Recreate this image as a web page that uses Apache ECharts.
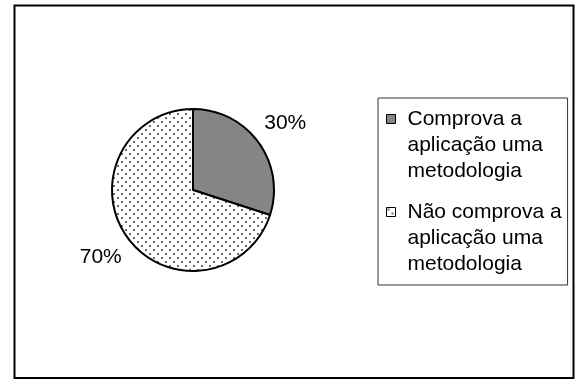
<!DOCTYPE html>
<html>
<head>
<meta charset="utf-8">
<script src="https://cdn.jsdelivr.net/npm/echarts@6/dist/echarts.min.js"></script>
<style>
  html, body { margin: 0; padding: 0; background: #fff; }
  #chart { width: 576px; height: 381px; }
</style>
</head>
<body>
<div id="chart"></div>
<script>
// Share of works that show they applied a methodology
const categories = [
  'Comprova a\naplicação uma\nmetodologia',
  'Não comprova a\naplicação uma\nmetodologia'
];
const values = [30, 70];

const FONT = '"Liberation Sans", Arial, sans-serif';

// Dotted fill used for the second slice
function dotPattern() {
  const c = document.createElement('canvas');
  c.width = 8; c.height = 8;
  const g = c.getContext('2d');
  g.fillStyle = '#ffffff';
  g.fillRect(0, 0, 8, 8);
  g.fillStyle = '#6a6a6a';
  g.fillRect(1, 1, 2, 2);
  g.fillRect(5, 5, 2, 2);
  return { image: c, repeat: 'repeat' };
}

const fills = ['#858585', dotPattern()];

const pieData = categories.map((name, i) => ({
  name: name,
  value: values[i],
  itemStyle: { color: fills[i] }
}));

const labelData = categories.map((name, i) => ({ name: name, value: values[i] }));

const chart = echarts.init(document.getElementById('chart'), null, { renderer: 'canvas' });

chart.setOption({
  animation: false,
  backgroundColor: '#ffffff',
  graphic: [{
    type: 'rect',
    silent: true,
    shape: { x: 14.5, y: 5.5, width: 559, height: 372.5 },
    style: { fill: 'none', stroke: '#000', lineWidth: 2 }
  }],
  legend: {
    orient: 'vertical',
    left: 378,
    top: 98,
    padding: [8, 6, 8, 8],
    itemGap: 15,
    itemWidth: 16,
    itemHeight: 61,
    // small square at the top-left of the symbol box so it sits beside the first text line
    icon: 'path://M0,0H9V9H0Z M16,61',
    borderColor: '#333',
    borderWidth: 1,
    selectedMode: false,
    data: categories,
    itemStyle: { borderColor: '#000', borderWidth: 1 },
    textStyle: {
      fontFamily: FONT,
      fontSize: 21,
      lineHeight: 26,
      color: '#000'
    }
  },
  series: [
    {
      type: 'pie',
      center: [193, 190],
      radius: 81,
      startAngle: 90,
      clockwise: true,
      silent: true,
      itemStyle: { borderColor: '#000', borderWidth: 2 },
      label: { show: false },
      labelLine: { show: false },
      emphasis: { disabled: true },
      data: pieData
    },
    {
      // transparent ring that carries the percentage labels just outside the pie
      type: 'pie',
      center: [193, 190],
      radius: [104, 118],
      startAngle: 90,
      clockwise: true,
      silent: true,
      itemStyle: { color: 'rgba(0,0,0,0)', borderWidth: 0 },
      label: {
        show: true,
        position: 'inside',
        formatter: '{d}%',
        color: '#000',
        fontFamily: FONT,
        fontSize: 21,
        textBorderWidth: 0
      },
      labelLine: { show: false },
      emphasis: { disabled: true },
      data: labelData
    }
  ]
});
</script>
</body>
</html>
